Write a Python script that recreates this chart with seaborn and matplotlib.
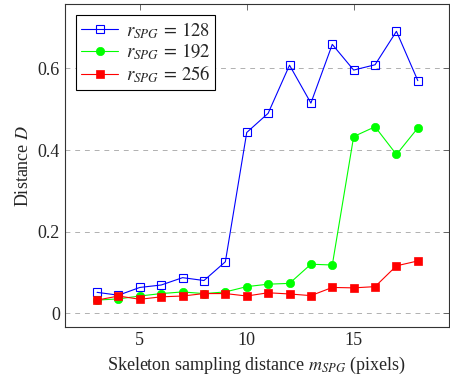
import matplotlib
matplotlib.use("Agg")
import matplotlib.pyplot as plt
import seaborn as sns
import pandas as pd

x_vals = list(range(3, 19))
d_128 = [0.051, 0.044, 0.063, 0.069, 0.087, 0.080, 0.126, 0.443, 0.490, 0.608, 0.515, 0.659, 0.596, 0.609, 0.691, 0.570]
d_192 = [0.032, 0.035, 0.042, 0.048, 0.052, 0.048, 0.052, 0.065, 0.071, 0.073, 0.120, 0.118, 0.433, 0.457, 0.389, 0.454]
d_256 = [0.032, 0.042, 0.034, 0.040, 0.042, 0.048, 0.048, 0.042, 0.050, 0.047, 0.043, 0.063, 0.062, 0.065, 0.116, 0.128]
labels = [r"$r_{SPG}\,=\,128$", r"$r_{SPG}\,=\,192$", r"$r_{SPG}\,=\,256$"]
x_ticks = [5, 10, 15]
y_ticks = [0, 0.2, 0.4, 0.6]
y_ticklabels = ["0", "0.2", "0.4", "0.6"]

sns.set_style("white")
plt.rcParams["font.family"] = ["Liberation Serif", "DejaVu Serif"]
plt.rcParams["mathtext.fontset"] = "stix"

fig = plt.figure(figsize=(4.5, 3.81), dpi=100)
ax = fig.add_axes([0.1444, 0.1417, 0.853, 0.8478])

styles = [
    dict(color=(0, 0, 1), marker="s", markerfacecolor="none", markeredgecolor=(0, 0, 1), markersize=6, markeredgewidth=0.8),
    dict(color=(0, 1, 0), marker="o", markerfacecolor=(0, 1, 0), markeredgecolor=(0, 1, 0), markersize=6, markeredgewidth=0.5),
    dict(color=(1, 0, 0), marker="s", markerfacecolor=(1, 0, 0), markeredgecolor=(1, 0, 0), markersize=6, markeredgewidth=0.5),
]
for vals, lab, st in zip([d_128, d_192, d_256], labels, styles):
    df = pd.DataFrame({"x": x_vals, "D": vals})
    sns.lineplot(data=df, x="x", y="D", ax=ax, label=lab, linewidth=0.8, **st)

ax.set_xlim(1.5, 19.45)
ax.set_ylim(-0.034, 0.758)
ax.set_xticks(x_ticks)
ax.set_xticklabels([str(t) for t in x_ticks], fontsize=13)
ax.set_yticks(y_ticks)
ax.set_yticklabels(y_ticklabels, fontsize=13)
ax.tick_params(direction="in", top=True, right=True, length=4, width=0.6, color="#555555")
ax.yaxis.grid(True, linestyle=(0, (5, 5)), color="#b0b0b0", linewidth=0.7)
ax.xaxis.grid(False)
for s in ax.spines.values():
    s.set_color("#333333")
    s.set_linewidth(0.8)
ax.set_xlabel(r"Skeleton sampling distance $m_{SPG}$ (pixels)", fontsize=13, labelpad=4)
ax.set_ylabel(r"Distance $D$", fontsize=13, labelpad=4)

leg = ax.legend(loc="upper left", fontsize=13.5, frameon=True, fancybox=False,
                edgecolor="black", framealpha=1, handlelength=2.0,
                borderaxespad=0.6, handletextpad=0.4, labelspacing=0.05, borderpad=0.25)
leg.get_frame().set_linewidth(0.8)

fig.savefig("out.png", dpi=100)
